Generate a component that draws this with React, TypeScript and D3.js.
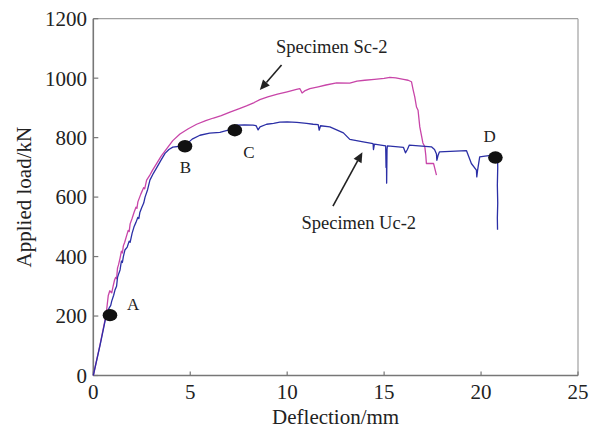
import React from "react";
import * as d3 from "d3";

const xTicks = [0, 5, 10, 15, 20, 25];
const yTicks = [0, 200, 400, 600, 800, 1000, 1200];

// Specimen Sc-2 (magenta)
const sc2: [number, number][] = [
  [0, 0], [0.35, 105], [0.66, 205], [0.77, 268], [0.85, 285], [0.95, 278], [1.02, 300], [1.1, 322],
  [1.15, 330], [1.2, 326], [1.25, 362], [1.3, 372], [1.38, 395], [1.45, 418], [1.5, 412], [1.55, 436],
  [1.62, 448], [1.7, 466], [1.8, 488], [1.85, 484], [1.9, 510], [2.0, 528], [2.1, 548], [2.2, 566],
  [2.25, 562], [2.3, 584], [2.45, 610], [2.6, 632], [2.65, 628], [2.75, 657], [2.9, 672], [3.05, 690],
  [3.28, 714], [3.5, 738], [3.8, 764], [4.1, 790], [4.47, 812], [4.9, 830], [5.33, 845], [5.8, 857],
  [6.2, 866], [6.6, 874], [7.05, 886], [7.5, 897], [7.9, 907], [8.3, 918], [8.59, 928], [9.0, 937],
  [9.5, 946], [10.0, 954], [10.48, 962], [10.65, 965], [10.77, 950], [10.9, 957], [11.17, 965],
  [11.6, 971], [12.0, 977], [12.55, 984], [13.23, 983], [13.6, 990], [14.0, 993], [14.5, 996],
  [15.0, 999], [15.3, 1003], [15.6, 1001], [16.0, 996], [16.24, 993], [16.41, 988], [16.5, 960],
  [16.58, 937], [16.67, 903], [16.75, 892], [16.84, 836], [17.0, 782], [17.1, 769], [17.15, 740],
  [17.18, 713], [17.55, 713], [17.6, 700], [17.7, 674],
];

// Specimen Uc-2 (blue)
const uc2: [number, number][] = [
  [0, 0], [0.35, 102], [0.66, 200], [0.8, 225], [0.9, 236], [0.95, 250], [1.05, 270], [1.12, 288],
  [1.2, 300], [1.25, 330], [1.3, 340], [1.38, 355], [1.45, 385], [1.5, 380], [1.55, 400], [1.63, 422],
  [1.75, 432], [1.85, 452], [1.9, 448], [2.0, 478], [2.1, 500], [2.2, 515], [2.3, 532], [2.35, 528],
  [2.4, 548], [2.5, 565], [2.6, 580], [2.67, 600], [2.8, 625], [2.92, 657], [3.1, 680], [3.28, 700],
  [3.5, 725], [3.7, 747], [3.9, 760], [4.1, 768], [4.47, 771], [4.8, 778], [5.1, 795], [5.5, 808],
  [6.0, 815], [6.53, 818], [7.0, 826], [7.4, 842], [7.8, 843], [8.24, 842], [8.4, 840], [8.5, 826],
  [8.6, 836], [8.94, 845], [9.3, 848], [9.62, 852], [10.0, 853], [10.5, 851], [11.0, 848],
  [11.34, 845], [11.6, 844], [11.65, 825], [11.72, 840], [12.2, 836], [12.9, 816], [13.23, 794],
  [13.92, 786], [14.43, 780], [14.45, 760], [14.5, 778], [15.08, 772], [15.1, 700], [15.12, 760],
  [15.13, 647], [15.15, 760], [15.17, 772], [16.0, 767], [16.1, 749], [16.2, 760], [16.3, 775],
  [17.44, 769], [17.6, 760], [17.7, 745], [17.72, 724], [17.78, 740], [17.85, 752], [19.25, 756],
  [19.5, 713], [19.76, 691], [19.78, 668], [19.82, 690], [19.93, 735], [20.2, 738], [20.62, 741],
  [20.85, 740], [20.86, 700], [20.84, 640], [20.86, 580], [20.84, 530], [20.85, 490],
];

const markerX = [0.86, 4.73, 7.3, 20.74];
const markerY = [203, 771, 825, 733];
const markerLabels = ["A", "B", "C", "D"];
const labelX = [2.05, 4.75, 8.03, 20.44];
const labelY = [220, 681, 731, 784];

const annotations = ["Specimen Sc-2", "Specimen Uc-2"];
const annX = [9.42, 10.74];
const annY = [1083, 492];
const arrowFrom: [number, number][] = [[9.71, 1044], [12.36, 570]];
const arrowTo: [number, number][] = [[8.59, 960], [13.88, 751]];

const W = 595;
const H = 428;
const x = d3.scaleLinear().domain([0, 25]).range([93.3, 578]);
const y = d3.scaleLinear().domain([0, 1200]).range([375.5, 18.7]);
const line = d3.line<[number, number]>().x((d) => x(d[0])).y((d) => y(d[1]));

const FONT = "'Liberation Serif', 'Times New Roman', serif";

function arrowHead(from: [number, number], to: [number, number]) {
  const x1 = x(from[0]), y1 = y(from[1]), x2 = x(to[0]), y2 = y(to[1]);
  const ang = Math.atan2(y2 - y1, x2 - x1);
  const len = 10, half = 4.5;
  const bx = x2 - len * Math.cos(ang), by = y2 - len * Math.sin(ang);
  const px = -Math.sin(ang) * half, py = Math.cos(ang) * half;
  return {
    shaft: `M${x1},${y1}L${bx},${by}`,
    head: `M${x2},${y2}L${bx + px},${by + py}L${bx - px},${by - py}Z`,
  };
}

export default function App() {
  const [x0, x1] = x.range();
  const [y0, y1] = y.range();
  return (
    <div style={{ position: "fixed", left: 0, top: 0 }}>
      <svg width={W} height={H} style={{ display: "block", background: "#fff" }} fontFamily={FONT}>
        <line x1={x0} y1={y1} x2={x1} y2={y1} stroke="#a0a0a0" strokeWidth={1.2} />
        <line x1={x1} y1={y1} x2={x1} y2={y0} stroke="#a0a0a0" strokeWidth={1.2} />
        <line x1={x0} y1={y0} x2={x1} y2={y0} stroke="#777" strokeWidth={1.6} />
        <line x1={x0} y1={y0} x2={x0} y2={y1} stroke="#777" strokeWidth={1.6} />
        {xTicks.map((t) => (
          <g key={"xt" + t}>
            <line x1={x(t)} x2={x(t)} y1={y0} y2={y0 - 4} stroke="#777" strokeWidth={1.2} />
            <text x={x(t)} y={398.5} textAnchor="middle" fontSize={21} fill="#222">{t}</text>
          </g>
        ))}
        {yTicks.map((t) => (
          <g key={"yt" + t}>
            <line x1={x0} x2={x0 + 5} y1={y(t)} y2={y(t)} stroke="#777" strokeWidth={1.2} />
            <text x={87} y={y(t)} dy="0.35em" textAnchor="end" fontSize={21} fill="#222">{t}</text>
          </g>
        ))}
        <text x={(x0 + x1) / 2} y={424} textAnchor="middle" fontSize={21} fill="#222">Deflection/mm</text>
        <text transform={`translate(31,${(y0 + y1) / 2}) rotate(-90)`} textAnchor="middle" fontSize={21} fill="#222">Applied load/kN</text>

        <path d={line(sc2) || ""} fill="none" stroke="#c845a8" strokeWidth={1.3} strokeLinejoin="round" />
        <path d={line(uc2) || ""} fill="none" stroke="#2b2fa6" strokeWidth={1.3} strokeLinejoin="round" />

        {markerX.map((mx, i) => (
          <g key={"m" + i}>
            <ellipse cx={x(mx)} cy={y(markerY[i])} rx={7.3} ry={6.2} fill="#111" />
            <text x={x(labelX[i])} y={y(labelY[i])} textAnchor="middle" fontSize={17} fill="#222">{markerLabels[i]}</text>
          </g>
        ))}

        {annotations.map((a, i) => {
          const ah = arrowHead(arrowFrom[i], arrowTo[i]);
          return (
            <g key={"a" + i}>
              <text x={x(annX[i])} y={y(annY[i])} fontSize={18.5} fill="#222">{a}</text>
              <path d={ah.shaft} stroke="#222" strokeWidth={1.6} fill="none" />
              <path d={ah.head} fill="#222" />
            </g>
          );
        })}
      </svg>
    </div>
  );
}
